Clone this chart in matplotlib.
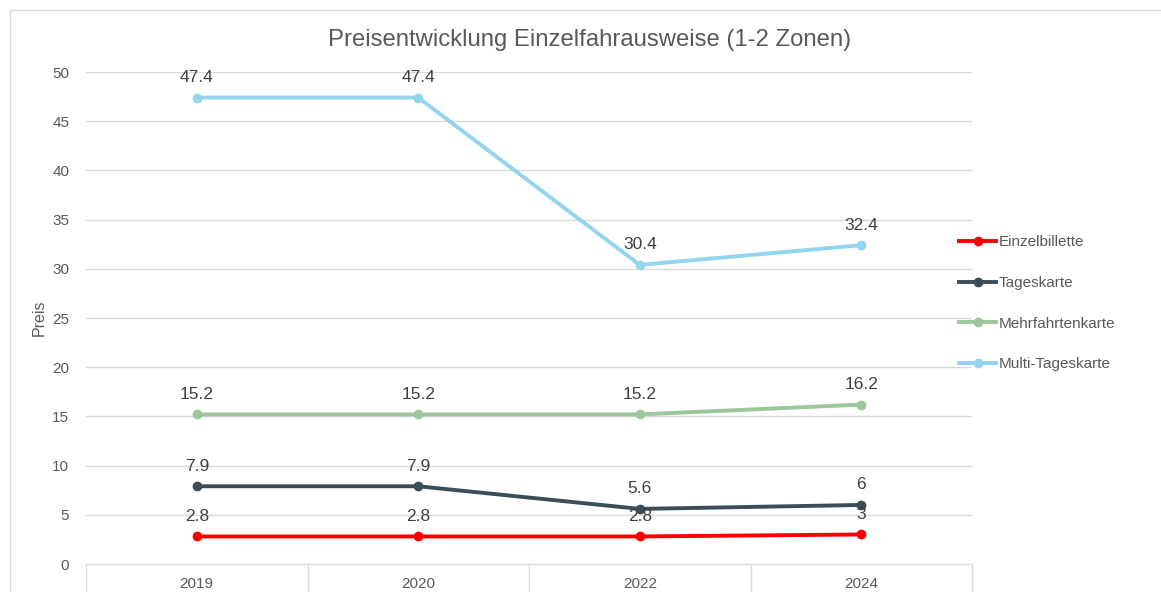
import matplotlib.pyplot as plt
from matplotlib.patches import Rectangle

plt.rcParams['font.family'] = ['Liberation Sans', 'DejaVu Sans']

years = ['2019', '2020', '2022', '2024']
einzel = [2.8, 2.8, 2.8, 3]
tages = [7.9, 7.9, 5.6, 6]
mehrfahrt = [15.2, 15.2, 15.2, 16.2]
multi = [47.4, 47.4, 30.4, 32.4]

series = [
    ('Einzelbillette', einzel, '#FF0000'),
    ('Tageskarte', tages, '#3A4D59'),
    ('Mehrfahrtenkarte', mehrfahrt, '#9DC69B'),
    ('Multi-Tageskarte', multi, '#93D4EF'),
]

fig = plt.figure(figsize=(11.61, 5.92), dpi=100)
fig.patches.append(Rectangle((10 / 1161, -0.1), 1.2, 1 - 10 / 592 + 0.1,
                             transform=fig.transFigure, fill=False,
                             edgecolor='#D9D9D9', linewidth=1))
ax = fig.add_axes([86 / 1161, 1 - 564 / 592, 886 / 1161, 492 / 592])

x = list(range(len(years)))
for name, vals, col in series:
    ax.plot(x, vals, color=col, linewidth=2.8, marker='o', markersize=6, label=name)
    for xi, v in zip(x, vals):
        ax.annotate(f'{v:g}', (xi, v), xytext=(0, 9), textcoords='offset points',
                    ha='center', va='bottom', fontsize=12.5, color='#404040')

ax.set_xlim(-0.5, 3.5)
ax.set_ylim(0, 50)
ax.set_yticks(range(0, 51, 5))
ax.yaxis.grid(True, color='#D9D9D9', linewidth=1)
ax.set_axisbelow(True)
ax.tick_params(axis='y', length=0, labelsize=11, labelcolor='#595959', pad=12)

ax.set_xticks([-0.5, 0.5, 1.5, 2.5, 3.5])
ax.set_xticklabels([])
ax.set_xticks(x, minor=True)
ax.set_xticklabels(years, minor=True)
ax.tick_params(axis='x', which='major', length=30, color='#D9D9D9', width=1)
ax.tick_params(axis='x', which='minor', length=0, labelsize=11,
               labelcolor='#595959', pad=9)

for s in ['top', 'right', 'left']:
    ax.spines[s].set_visible(False)
ax.spines['bottom'].set_color('#D9D9D9')

ax.set_ylabel('Preis', fontsize=11.5, color='#595959', labelpad=4)
fig.text(590 / 1161, 1 - 40 / 592, 'Preisentwicklung Einzelfahrausweise (1-2 Zonen)',
         fontsize=17.2, color='#595959', ha='center', va='center')

leg = ax.legend(loc='center left', bbox_to_anchor=(0.97, 0.53), frameon=False,
                fontsize=11, labelspacing=1.75, handlelength=2.4,
                handletextpad=0.2, labelcolor='#595959')

fig.savefig('out.png', dpi=100)
